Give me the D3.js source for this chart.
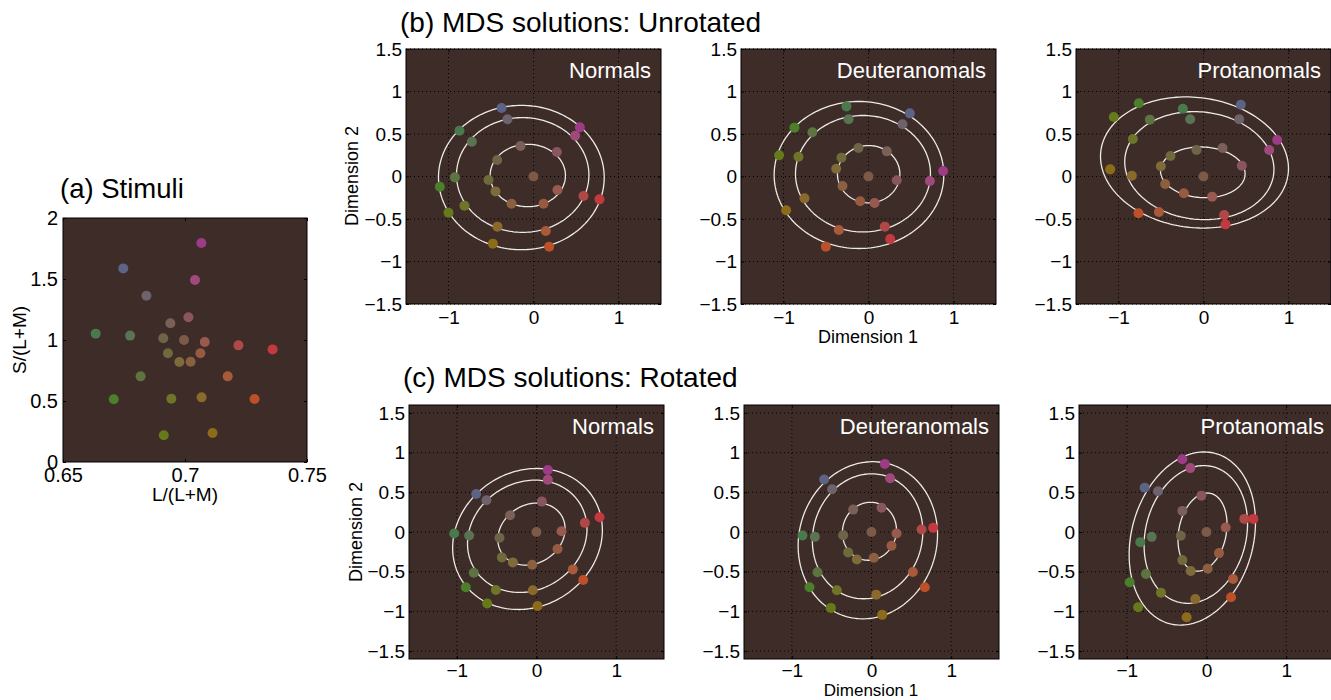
<!DOCTYPE html>
<html>
<head>
<meta charset="utf-8">
<script src="https://cdn.jsdelivr.net/npm/d3@7"></script>
<style>
  body { margin: 0; background: #fff; }
  text { font-family: "Liberation Sans", Arial, Helvetica, sans-serif; }
</style>
</head>
<body>
<script>
// 25 stimuli: outer ring, middle ring, inner ring and the centre (index 10)
var stimL = [0.7067, 0.6747, 0.7041, 0.6842, 0.7014, 0.6940, 0.6634, 0.6775, 0.6911, 0.6996,
             0.7081, 0.7219, 0.7359, 0.6930, 0.7063, 0.6977, 0.7023, 0.6818, 0.7175, 0.6708,
             0.6944, 0.7068, 0.7285, 0.6913, 0.7113];
var stimS = [1.795, 1.587, 1.492, 1.363, 1.186, 1.137, 1.052, 1.036, 1.014, 1.000,
             0.984, 0.956, 0.923, 0.891, 0.891, 0.820, 0.822, 0.702, 0.702, 0.514,
             0.519, 0.530, 0.516, 0.219, 0.238];
var stimColors = ["#9c3c86", "#5c6384", "#a04a7c", "#6e626c", "#885560", "#7a6058", "#4a7a4c",
                  "#5a7352", "#706448", "#7d5a48", "#985a50", "#b04848", "#c23a40", "#6e6a3c",
                  "#985a40", "#7e6a3a", "#8a6040", "#5e7440", "#a85a3a", "#4c7e2c", "#6e7428",
                  "#8a6a2c", "#bc5028", "#667a1c", "#8c6c1a"];

// MDS coordinates, same stimulus order
var normUnrotX = [0.545, -0.376, 0.490, -0.306, 0.275, -0.153, -0.871, -0.725, -0.427, 0, 0.282, 0.588, 0.776,
                  -0.529, 0.118, -0.447, -0.259, -0.925, 0.145, -1.102, -0.812, -0.424, 0.184, -1.000, -0.478];
var normUnrotY = [0.578, 0.806, 0.480, 0.673, 0.288, 0.359, 0.539, 0.410, 0.194, 0, -0.159, -0.229, -0.269,
                  -0.041, -0.320, -0.175, -0.320, -0.010, -0.641, -0.120, -0.343, -0.590, -0.825, -0.425, -0.790];
var deutUnrotX = [0.878, 0.486, 0.722, 0.400, 0.333, 0.216, -0.259, -0.235, -0.118, 0, 0.071, 0.192, 0.255,
                  -0.318, -0.098, -0.380, -0.306, -0.659, -0.349, -0.871, -0.824, -0.753, -0.502, -1.051, -0.969];
var deutUnrotY = [0.065, 0.743, -0.053, 0.614, -0.045, 0.296, 0.825, 0.673, 0.335, 0, -0.312, -0.590, -0.735,
                  0.222, -0.292, 0.092, -0.112, 0.520, -0.629, 0.575, 0.233, -0.257, -0.825, 0.249, -0.398];
var protUnrotX = [0.867, 0.439, 0.773, 0.420, 0.451, 0.224, -0.243, -0.157, -0.082, 0, 0.102, 0.243, 0.259,
                  -0.388, -0.231, -0.502, -0.451, -0.631, -0.525, -0.761, -0.831, -0.843, -0.765, -1.055, -1.098];
var protUnrotY = [0.429, 0.845, 0.312, 0.673, 0.127, 0.335, 0.798, 0.673, 0.312, 0, -0.237, -0.453, -0.563,
                  0.241, -0.198, 0.120, -0.088, 0.669, -0.418, 0.861, 0.441, 0.010, -0.433, 0.700, 0.084];
var normRotX = [0.142, -0.757, 0.142, -0.628, 0.067, -0.331, -1.033, -0.845, -0.464, 0, 0.314, 0.607, 0.791,
                -0.435, 0.264, -0.297, -0.054, -0.787, 0.456, -0.887, -0.510, -0.046, 0.586, -0.619, 0.013];
var normRotY = [0.780, 0.479, 0.659, 0.400, 0.383, 0.211, -0.019, -0.044, -0.073, 0, 0.010, 0.115, 0.186,
                -0.320, -0.215, -0.383, -0.412, -0.513, -0.471, -0.697, -0.730, -0.734, -0.605, -0.900, -0.933];
var deutRotX = [0.167, -0.594, 0.234, -0.494, 0.126, -0.230, -0.866, -0.711, -0.356, 0, 0.314, 0.628, 0.774,
                -0.293, 0.251, -0.184, 0.029, -0.678, 0.519, -0.778, -0.435, 0.059, 0.669, -0.510, 0.134];
var deutRotY = [0.858, 0.661, 0.678, 0.538, 0.307, 0.282, -0.044, -0.061, -0.040, 0, -0.019, 0.031, 0.052,
                -0.257, -0.174, -0.345, -0.324, -0.508, -0.504, -0.696, -0.734, -0.789, -0.697, -0.956, -1.044];
var protRotX = [-0.303, -0.776, -0.203, -0.608, -0.064, -0.303, -0.830, -0.688, -0.323, 0, 0.241, 0.475, 0.588,
                -0.303, 0.157, -0.198, 0.015, -0.759, 0.333, -0.964, -0.571, -0.140, 0.308, -0.858, -0.249];
var protRotY = [0.916, 0.559, 0.805, 0.513, 0.458, 0.266, -0.128, -0.061, -0.048, 0, 0.056, 0.165, 0.165,
                -0.354, -0.266, -0.492, -0.462, -0.530, -0.592, -0.634, -0.764, -0.843, -0.822, -0.948, -1.074];

// fitted ellipses: [cx, cy, semi axis 1, semi axis 2, angle in degrees]
var normUnrotRings = [[-0.143, -0.012, 0.975, 0.849, 0], [-0.127, 0.018, 0.779, 0.675, 0], [-0.067, 0.012, 0.443, 0.367, 0]];
var deutUnrotRings = [[-0.112, 0.018, 0.998, 0.865, 0], [-0.065, 0.033, 0.794, 0.685, 0], [0.002, 0.027, 0.367, 0.337, 0]];
var protUnrotRings = [[-0.106, 0.165, 1.110, 0.765, -7], [-0.049, 0.128, 0.880, 0.632, -6], [-0.008, 0.049, 0.498, 0.298, -3]];
var normRotRings = [[-0.113, -0.088, 0.975, 0.849, 33], [-0.116, -0.054, 0.779, 0.675, 33], [-0.063, -0.026, 0.443, 0.367, 33]];
var deutRotRings = [[-0.046, -0.104, 0.998, 0.865, 75], [-0.049, -0.054, 0.794, 0.685, 75], [-0.026, 0.009, 0.367, 0.337, 75]];
var protRotRings = [[-0.178, -0.082, 1.110, 0.765, 75], [-0.134, -0.031, 0.880, 0.632, 76], [-0.050, -0.001, 0.498, 0.298, 79]];

var stimXTicks = [0.65, 0.7, 0.75];
var stimYTicks = [0, 0.5, 1, 1.5, 2];
var mdsXTicks = [-1, 0, 1];
var mdsYTicks = [-1.5, -1, -0.5, 0, 0.5, 1, 1.5];

var svg = d3.select("body").append("svg")
  .attr("width", 1331)
  .attr("height", 700);

var bg = "#3d2c27";
var fmt = d3.format("~g");

function ellipsePts(r) {
  var a = r[4] * Math.PI / 180;
  return d3.range(0, 2 * Math.PI + 0.02, Math.PI / 90).map(function (t) {
    var ex = r[2] * Math.cos(t), ey = r[3] * Math.sin(t);
    return [r[0] + ex * Math.cos(a) - ey * Math.sin(a), r[1] + ex * Math.sin(a) + ey * Math.cos(a)];
  });
}

function panel(p) {
  var g = svg.append("g").attr("transform", "translate(" + p.left + "," + p.top + ")");
  var x = d3.scaleLinear().domain(p.xd).range([0, p.w]);
  var y = d3.scaleLinear().domain(p.yd).range([p.h, 0]);

  g.append("rect").attr("width", p.w).attr("height", p.h).attr("fill", bg);

  if (p.grid) {
    g.selectAll(".gx").data(p.xt).enter().append("line")
      .attr("x1", function (d) { return x(d); }).attr("x2", function (d) { return x(d); })
      .attr("y1", 0).attr("y2", p.h)
      .attr("stroke", "#000").attr("stroke-width", 1).attr("stroke-dasharray", "1,3");
    g.selectAll(".gy").data(p.yt).enter().append("line")
      .attr("y1", function (d) { return y(d); }).attr("y2", function (d) { return y(d); })
      .attr("x1", 0).attr("x2", p.w)
      .attr("stroke", "#000").attr("stroke-width", 1).attr("stroke-dasharray", "1,3");
  }

  var line = d3.line()
    .x(function (d) { return x(d[0]); })
    .y(function (d) { return y(d[1]); });

  if (p.rings) {
    g.selectAll(".ring").data(p.rings).enter().append("path")
      .attr("d", function (r) { return line(ellipsePts(r)); })
      .attr("fill", "none")
      .attr("stroke", "#eeeae6")
      .attr("stroke-width", 1.3);
  }

  g.selectAll(".dot").data(p.xs).enter().append("circle")
    .attr("cx", function (d) { return x(d); })
    .attr("cy", function (d, i) { return y(p.ys[i]); })
    .attr("r", p.r)
    .attr("fill", function (d, i) { return stimColors[i]; });

  if (p.label) {
    g.append("text")
      .attr("x", p.w - 10).attr("y", 29)
      .attr("text-anchor", "end")
      .attr("font-size", 22)
      .attr("fill", "#fff")
      .text(p.label);
  }

  g.append("rect").attr("width", p.w).attr("height", p.h)
    .attr("fill", "none").attr("stroke", "#000").attr("stroke-width", 1);

  var gx = g.append("g").attr("transform", "translate(0," + p.h + ")")
    .call(d3.axisBottom(x).tickValues(p.xt).tickSize(-3).tickPadding(p.padX).tickFormat(fmt));
  var gt = g.append("g")
    .call(d3.axisTop(x).tickValues(p.xt).tickSize(-3).tickFormat(""));
  var gy = g.append("g")
    .call(d3.axisLeft(y).tickValues(p.yt).tickSize(-3).tickPadding(p.padY).tickFormat(fmt));
  var gr = g.append("g").attr("transform", "translate(" + p.w + ",0)")
    .call(d3.axisRight(y).tickValues(p.yt).tickSize(-3).tickFormat(""));

  [gx, gt, gy, gr].forEach(function (a) {
    a.select(".domain").remove();
    a.selectAll("line").attr("stroke", "#000");
    a.selectAll("text").attr("font-size", p.fs).attr("fill", "#000");
  });
  return g;
}

// (a) stimuli
panel({ left: 63, top: 218, w: 244, h: 244, xd: [0.65, 0.75], yd: [0, 2],
        xt: stimXTicks, yt: stimYTicks, xs: stimL, ys: stimS, r: 5, grid: false,
        fs: 20, padX: 6, padY: 5 });

var rowB = 49, rowC = 405;
var bLeft = [406, 741, 1076], cLeft = [409, 744, 1079];

panel({ left: bLeft[0], top: rowB, w: 255, h: 255, xd: [-1.5, 1.5], yd: [-1.5, 1.5],
        xt: mdsXTicks, yt: mdsYTicks, xs: normUnrotX, ys: normUnrotY, rings: normUnrotRings,
        label: "Normals", r: 5, grid: true, fs: 19, padX: 7, padY: 4 });
panel({ left: bLeft[1], top: rowB, w: 255, h: 255, xd: [-1.5, 1.5], yd: [-1.5, 1.5],
        xt: mdsXTicks, yt: mdsYTicks, xs: deutUnrotX, ys: deutUnrotY, rings: deutUnrotRings,
        label: "Deuteranomals", r: 5, grid: true, fs: 19, padX: 7, padY: 4 });
panel({ left: bLeft[2], top: rowB, w: 255, h: 255, xd: [-1.5, 1.5], yd: [-1.5, 1.5],
        xt: mdsXTicks, yt: mdsYTicks, xs: protUnrotX, ys: protUnrotY, rings: protUnrotRings,
        label: "Protanomals", r: 5, grid: true, fs: 19, padX: 7, padY: 4 });

panel({ left: cLeft[0], top: rowC, w: 255, h: 254, xd: [-1.6, 1.6], yd: [-1.6, 1.6],
        xt: mdsXTicks, yt: mdsYTicks, xs: normRotX, ys: normRotY, rings: normRotRings,
        label: "Normals", r: 5, grid: true, fs: 19, padX: 5, padY: 4 });
panel({ left: cLeft[1], top: rowC, w: 255, h: 254, xd: [-1.6, 1.6], yd: [-1.6, 1.6],
        xt: mdsXTicks, yt: mdsYTicks, xs: deutRotX, ys: deutRotY, rings: deutRotRings,
        label: "Deuteranomals", r: 5, grid: true, fs: 19, padX: 5, padY: 4 });
panel({ left: cLeft[2], top: rowC, w: 255, h: 254, xd: [-1.6, 1.6], yd: [-1.6, 1.6],
        xt: mdsXTicks, yt: mdsYTicks, xs: protRotX, ys: protRotY, rings: protRotRings,
        label: "Protanomals", r: 5, grid: true, fs: 19, padX: 5, padY: 4 });

// titles and axis labels
function label(txt, x, y, size, rot) {
  var t = svg.append("text")
    .attr("font-size", size)
    .attr("fill", "#000")
    .text(txt);
  if (rot) {
    t.attr("text-anchor", "middle").attr("transform", "translate(" + x + "," + y + ") rotate(-90)");
  } else {
    t.attr("x", x).attr("y", y);
  }
  return t;
}

label("(a) Stimuli", 60, 198, 27.5);
label("(b) MDS solutions: Unrotated", 400, 32, 28);
label("(c) MDS solutions: Rotated", 403, 387, 28);

label("S/(L+M)", 26, 340, 19, true);
label("L/(L+M)", 185, 501, 19).attr("text-anchor", "middle");

label("Dimension 2", 358, 176, 18, true);
label("Dimension 1", 868, 343, 18).attr("text-anchor", "middle");
label("Dimension 2", 362, 532, 18, true);
label("Dimension 1", 871, 696, 17).attr("text-anchor", "middle");
</script>
</body>
</html>
